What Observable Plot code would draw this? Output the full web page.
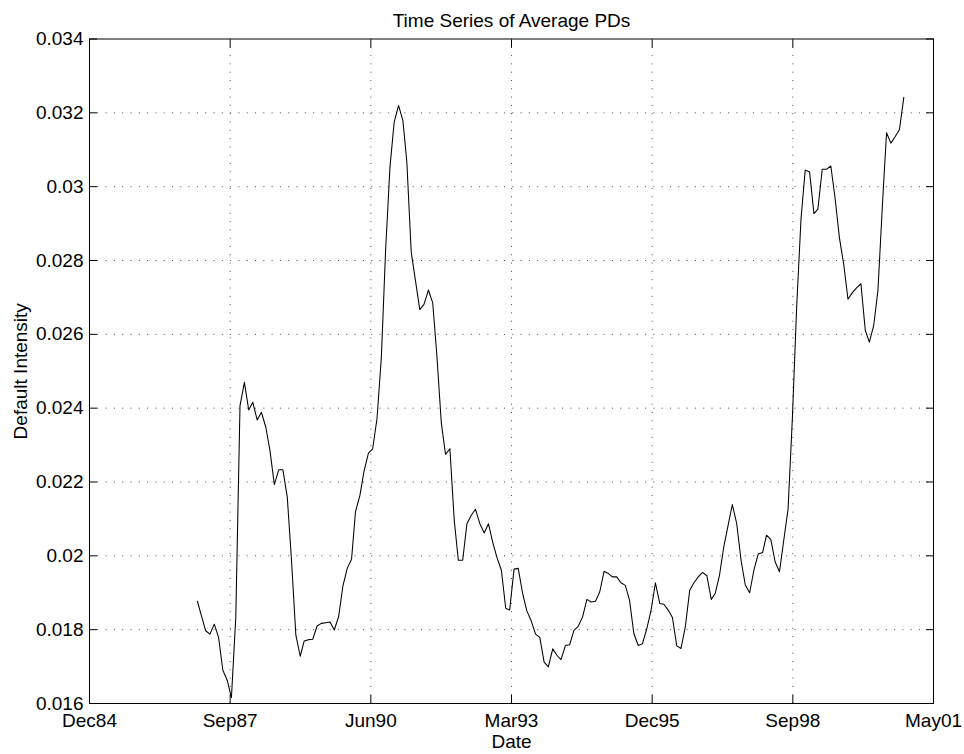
<!DOCTYPE html>
<html><head><meta charset="utf-8">
<script src="https://cdn.jsdelivr.net/npm/d3@7"></script>
<script src="https://cdn.jsdelivr.net/npm/@observablehq/plot@0.6"></script>
<style>body{margin:0;background:#fff}#chart{width:964px;height:754px}</style>
</head><body><div id="chart"></div>
<script>
// monthly series, first observation January 1987 (month-end)
const startMonth = "1987-01";
const values = [
0.01877,0.01839,0.01797,0.01788,0.01815,0.01780,0.01690,0.01663,0.01616,0.01834,
0.02407,0.02470,0.02395,0.02416,0.02368,0.02389,0.02349,0.02285,0.02193,0.02233,
0.02233,0.02159,0.01988,0.01785,0.01728,0.01769,0.01773,0.01774,0.01810,0.01817,
0.01819,0.01821,0.01799,0.01835,0.01917,0.01966,0.01991,0.02120,0.02163,0.02230,
0.02278,0.02290,0.02372,0.02539,0.02828,0.03053,0.03175,0.03220,0.03179,0.03067,
0.02823,0.02746,0.02667,0.02681,0.02720,0.02685,0.02540,0.02360,0.02275,0.02290,
0.02096,0.01988,0.01988,0.02087,0.02110,0.02126,0.02087,0.02062,0.02087,0.02036,
0.01995,0.01961,0.01858,0.01853,0.01964,0.01966,0.01898,0.01851,0.01824,0.01788,
0.01779,0.01712,0.01699,0.01748,0.01730,0.01719,0.01757,0.01759,0.01798,0.01809,
0.01834,0.01882,0.01875,0.01877,0.01902,0.01958,0.01952,0.01943,0.01943,0.01927,
0.01920,0.01880,0.01789,0.01757,0.01762,0.01803,0.01852,0.01927,0.01871,0.01869,
0.01853,0.01833,0.01756,0.01749,0.01808,0.01907,0.01927,0.01943,0.01955,0.01946,
0.01882,0.01898,0.01948,0.02024,0.02083,0.02139,0.02087,0.01988,0.01921,0.01900,
0.01961,0.02005,0.02009,0.02056,0.02044,0.01984,0.01957,0.02041,0.02126,0.02375,
0.02672,0.02912,0.03045,0.03040,0.02927,0.02939,0.03047,0.03047,0.03056,0.02970,
0.02862,0.02789,0.02695,0.02713,0.02726,0.02737,0.02611,0.02579,0.02624,0.02719,
0.02944,0.03146,0.03118,0.03136,0.03155,0.03242
];
const tickDates = ["1984-12-25","1987-09-21","1990-06-17","1993-03-13","1995-12-08","1998-09-03","2001-05-30"];
const tickLabels = ["Dec84","Sep87","Jun90","Mar93","Dec95","Sep98","May01"];
const yTicks = [0.016,0.018,0.020,0.022,0.024,0.026,0.028,0.030,0.032,0.034];
const yTickLabels = ["0.016","0.018","0.02","0.022","0.024","0.026","0.028","0.03","0.032","0.034"];
const titleText = "Time Series of Average PDs";
const xTitle = "Date";
const yTitle = "Default Intensity";

const start = d3.utcParse("%Y-%m")(startMonth);
const series = values.map((v, i) => ({date: d3.utcDay.offset(d3.utcMonth.offset(start, i + 1), -1), value: v}));
const xt = tickDates.map(d3.utcParse("%Y-%m-%d"));
const xLab = new Map(xt.map((d, i) => [+d, tickLabels[i]]));
const yLab = new Map(yTicks.map((v, i) => [v, yTickLabels[i]]));
const font = "'Liberation Sans', Arial, Helvetica, sans-serif";
const fs = 19;
const gridStyle = {stroke: "#000", strokeOpacity: 0.7, strokeDasharray: "1,7.3"};

const chart = Plot.plot({
  width: 964, height: 754,
  marginLeft: 89, marginRight: 31, marginTop: 38.5, marginBottom: 51,
  style: {fontFamily: font, fontSize: fs + "px", background: "#fff", color: "#000"},
  x: {type: "utc", domain: [xt[0], xt[xt.length - 1]], label: null},
  y: {domain: [0.016, 0.034], label: null},
  marks: [
    Plot.gridX(xt.slice(1, -1), gridStyle),
    Plot.gridY(yTicks.slice(1, -1), gridStyle),
    Plot.axisX(xt, {anchor: "bottom", tickSize: -8, tickFormat: () => "", label: null}),
    Plot.axisX(xt, {anchor: "top", tickSize: -8, tickFormat: () => "", label: null}),
    Plot.axisY(yTicks, {anchor: "left", tickSize: -8, tickFormat: () => "", label: null}),
    Plot.axisY(yTicks, {anchor: "right", tickSize: -8, tickFormat: () => "", label: null}),
    Plot.axisX(xt, {anchor: "bottom", tickSize: 0, tickPadding: 10, tickFormat: d => xLab.get(+d), label: null, fontSize: fs, fill: "#000"}),
    Plot.axisY(yTicks, {anchor: "left", tickSize: 0, tickPadding: 6, tickFormat: d => yLab.get(d), label: null, fontSize: fs, fill: "#000"}),
    Plot.lineY(series, {x: "date", y: "value", stroke: "#000", strokeWidth: 1.05}),
    Plot.frame({stroke: "#000", strokeWidth: 1}),
    Plot.text([titleText], {frameAnchor: "top", dy: -12.5, lineAnchor: "bottom", fontSize: fs, fill: "#000"}),
    Plot.text([xTitle], {frameAnchor: "bottom", dy: 44, lineAnchor: "bottom", fontSize: fs, fill: "#000"}),
    Plot.text([yTitle], {frameAnchor: "left", dx: -63, rotate: -90, textAnchor: "middle", lineAnchor: "bottom", fontSize: fs, fill: "#000"})
  ]
});
document.getElementById("chart").appendChild(chart);
</script>
</body></html>
